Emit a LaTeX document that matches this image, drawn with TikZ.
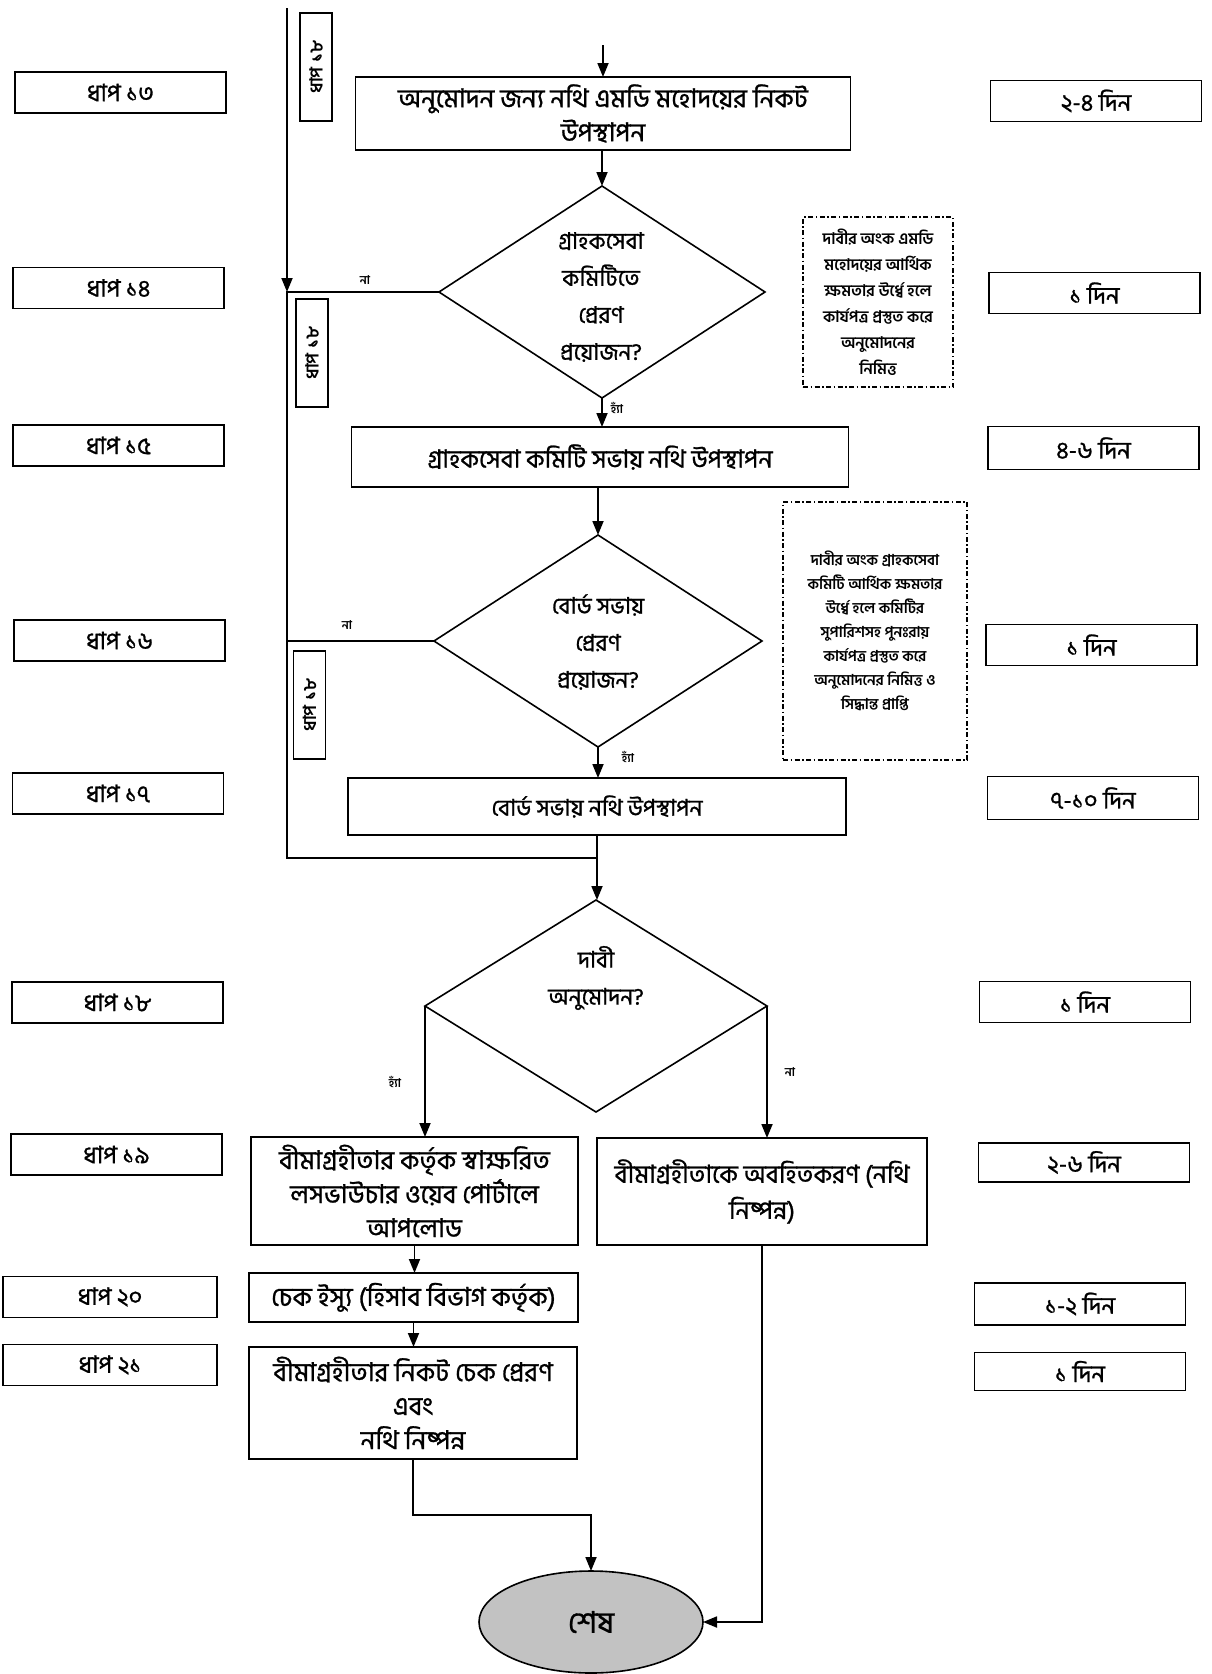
\documentclass[tikz,border=0pt]{standalone}
\usepackage{fontspec}
\setmainfont[Script=Bengali]{Hind Siliguri}
\newfontfamily\bnb[Script=Bengali,FakeBold=1]{Hind Siliguri}
\usetikzlibrary{shapes.geometric,arrows.meta}
\begin{document}
\begin{tikzpicture}[x=1pt,y=-1pt,
  every node/.style={inner sep=0pt, outer sep=0pt},
  box/.style={draw, line width=1.7pt, align=center, font=\bnb\fontsize{26}{34}\selectfont},
  stepbox/.style={draw, line width=1.8pt, minimum width=211pt, minimum height=41pt, font=\bnb\fontsize{24}{26}\selectfont},
  rotbox/.style={draw, line width=1.5pt, minimum width=108pt, minimum height=32pt, rotate=90, font=\bfseries\fontsize{18}{20}\selectfont},
  decision/.style={draw, diamond, line width=1.6pt},
  dtext/.style={align=center, font=\bnb\fontsize{23}{37}\selectfont},
  note/.style={draw, line width=1.1pt, dash pattern=on 5pt off 2.5pt on 1.5pt off 2.5pt, align=center, font=\bfseries\fontsize{16}{26}\selectfont},
  lbl/.style={font=\bfseries\fontsize{12}{14}\selectfont},
  conn/.style={line width=1.8pt},
  arr/.style={conn, -{Triangle[length=14pt,width=11pt]}},
  endnode/.style={draw, ellipse, line width=1.6pt, fill=black!24, minimum width=224pt, minimum height=102pt, font=\bnb\fontsize{30}{32}\selectfont}
]
\useasboundingbox (0,0) rectangle (1212,1674);

% left step boxes
\node[stepbox] (s13) at (120.5,92.5) {ধাপ ১৩};
\node[stepbox] (s14) at (118.5,288) {ধাপ ১৪};
\node[stepbox] (s15) at (118.5,445.5) {ধাপ ১৫};
\node[stepbox] (s16) at (119.5,640.5) {ধাপ ১৬};
\node[stepbox] (s17) at (118,793.5) {ধাপ ১৭};
\node[stepbox] (s18) at (117.5,1002.5) {ধাপ ১৮};
\node[stepbox] (s19) at (116.5,1154.5) {ধাপ ১৯};
\node[stepbox, minimum width=214pt] (s20) at (110,1297) {ধাপ ২০};
\node[stepbox, minimum width=214pt] (s21) at (110,1365) {ধাপ ২১};

% right duration boxes
\node[stepbox] (t13) at (1096,101) {২-৪ দিন};
\node[stepbox] (t14) at (1094.5,293) {১ দিন};
\node[stepbox, minimum height=43pt] (t15) at (1093.5,448) {৪-৬ দিন};
\node[stepbox] (t16) at (1091.5,645) {১ দিন};
\node[stepbox, minimum height=43pt] (t17) at (1093,798) {৭-১০ দিন};
\node[stepbox] (t18) at (1085,1002) {১ দিন};
\node[stepbox, minimum height=39pt] (t19) at (1084,1162.5) {২-৬ দিন};
\node[stepbox, minimum height=42pt] (t20) at (1080,1304) {১-২ দিন};
\node[stepbox, minimum height=38pt] (t21) at (1080,1371.5) {১ দিন};

% rotated step boxes
\node[rotbox] (r1) at (316,67) {ধাপ ১৮};
\node[rotbox] (r2) at (312,353) {ধাপ ১৮};
\node[rotbox] (r3) at (309.5,705) {ধাপ ১৮};

% central flow
\node[box, minimum width=495pt, minimum height=73pt] (b1) at (603,113.5) {অনুমোদন জন্য নথি এমডি মহোদয়ের নিকট\\উপস্থাপন};
\node[decision, minimum width=326pt, minimum height=212pt] (d1) at (602,292) {};
\node[dtext] (d1t) at (601,297) {গ্রাহকসেবা\\কমিটিতে\\প্রেরণ\\প্রয়োজন?};
\node[box, minimum width=497pt, minimum height=60pt, font=\bnb\fontsize{25}{30}\selectfont] (b2) at (600,457) {গ্রাহকসেবা কমিটি সভায় নথি উপস্থাপন};
\node[decision, minimum width=328pt, minimum height=212pt] (d2) at (598,641) {};
\node[dtext] (d2t) at (598,642) {বোর্ড সভায়\\প্রেরণ\\প্রয়োজন?};
\node[box, minimum width=498pt, minimum height=57pt, font=\bnb\fontsize{23}{28}\selectfont] (b3) at (597,806.5) {বোর্ড সভায় নথি উপস্থাপন};
\node[decision, minimum width=342pt, minimum height=212pt] (d3) at (596,1006) {};
\node[dtext] (d3t) at (596,978) {দাবী\\অনুমোদন?};

\node[box, minimum width=327pt, minimum height=108pt] (b4) at (414.5,1191) {বীমাগ্রহীতার কর্তৃক স্বাক্ষরিত\\লসভাউচার ওয়েব পোর্টালে\\আপলোড};
\node[box, minimum width=330pt, minimum height=107pt, font=\bnb\fontsize{25}{36}\selectfont] (b5) at (762,1191.5) {বীমাগ্রহীতাকে অবহিতকরণ (নথি\\নিষ্পন্ন)};
\node[box, minimum width=329pt, minimum height=49pt] (b6) at (413.5,1297.5) {চেক ইস্যু (হিসাব বিভাগ কর্তৃক)};
\node[box, minimum width=328pt, minimum height=112pt] (b7) at (413,1403) {বীমাগ্রহীতার নিকট চেক প্রেরণ\\এবং\\নথি নিষ্পন্ন};
\node[endnode] (end) at (591,1622) {শেষ};

% notes
\node[note, minimum width=150pt, minimum height=170pt] (n1) at (878,302) {দাবীর অংক এমডি\\মহোদয়ের আর্থিক\\ক্ষমতার উর্ধ্বে হলে\\কার্যপত্র প্রস্তুত করে\\অনুমোদনের\\নিমিত্ত};
\node[note, minimum width=184pt, minimum height=258pt, font=\bfseries\fontsize{15}{24}\selectfont] (n2) at (875,631) {দাবীর অংক গ্রাহকসেবা\\কমিটি আর্থিক ক্ষমতার\\উর্ধ্বে হলে কমিটির\\সুপারিশসহ পুনঃরায়\\কার্যপত্র প্রস্তুত করে\\অনুমোদনের নিমিত্ত ও\\সিদ্ধান্ত প্রাপ্তি};

% connectors
\coordinate (top) at (603,45);
\coordinate (mtop) at (287,8);
\coordinate (m1) at (d1.west -| mtop);
\coordinate (m2) at (d2.west -| mtop);
\coordinate (mbot) at (287,858);
\coordinate (mj) at (b3.south |- mbot);
\coordinate (t7) at (413,1515);

\draw[arr] (top) -- (b1.north);
\draw[arr] (b1.south -| d1.north) -- (d1.north);
\draw[arr] (d1.south) -- (d1.south |- b2.north);
\draw[arr] (b2.south -| d2.north) -- (d2.north);
\draw[arr] (d2.south) -- (d2.south |- b3.north);
\draw[arr] (b3.south) -- (b3.south |- d3.north);
\draw[arr] (mtop) -- (m1);
\draw[conn] (d1.west) -- (m1) -- (m2) -- (mbot) -- (mj);
\draw[conn] (d2.west) -- (m2);
\draw[arr] (d3.west) -- (d3.west |- b4.north);
\draw[arr] (d3.east) -- (d3.east |- b5.north);
\draw[arr] (b4.south) -- (b4.south |- b6.north);
\draw[arr] (b6.south) -- (b6.south |- b7.north);
\draw[arr] (b7.south) -- (t7) -| (end.north);
\draw[arr] (b5.south) |- (end.east);

% branch labels
\node[lbl] (no1) at (365,280) {না};
\node[lbl] (no2) at (347,625) {না};
\node[lbl] (no3) at (790,1072) {না};
\node[lbl] (yes1) at (617,408) {হ্যাঁ};
\node[lbl] (yes2) at (628,757) {হ্যাঁ};
\node[lbl] (yes3) at (395,1082) {হ্যাঁ};
\end{tikzpicture}
\end{document}
